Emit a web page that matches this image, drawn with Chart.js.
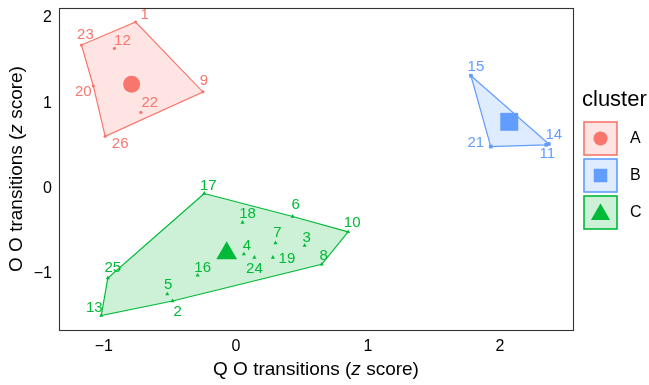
<!DOCTYPE html>
<html>
<head>
<meta charset="utf-8">
<script src="https://cdn.jsdelivr.net/npm/chart.js@4/dist/chart.umd.min.js"></script>
<style>
  html, body { margin: 0; padding: 0; background: #ffffff; }
  #wrap { width: 649px; height: 385px; position: relative; }
</style>
</head>
<body>
<div id="wrap"><canvas id="c" width="649" height="385"></canvas></div>
<script>
// ---- cluster A ----
const idsA = ['1', '23', '12', '20', '9', '22', '26'];
const xA = [-0.76, -1.17, -0.92, -1.08, -0.25, -0.72, -0.99];
const yA = [1.93, 1.66, 1.62, 1.18, 1.11, 0.87, 0.59];
const centerA = [-0.79, 1.20];
const hullA = ['23', '1', '9', '26', '20'];

// ---- cluster B ----
const idsB = ['15', '21', '14', '11'];
const xB = [1.78, 1.93, 2.37, 2.35];
const yB = [1.30, 0.47, 0.50, 0.49];
const centerB = [2.07, 0.76];
const hullB = ['15', '14', '11', '21'];

// ---- cluster C ----
const idsC = ['17', '6', '10', '18', '7', '3', '4', '24', '19', '8', '16', '25', '5', '2', '13'];
const xC = [-0.24, 0.43, 0.85, 0.05, 0.30, 0.52, 0.06, 0.14, 0.28, 0.65, -0.29, -0.97, -0.52, -0.48, -1.02];
const yC = [-0.08, -0.35, -0.53, -0.42, -0.66, -0.69, -0.79, -0.83, -0.83, -0.91, -1.04, -1.07, -1.26, -1.34, -1.51];
const centerC = [-0.07, -0.78];
const hullC = ['17', '6', '10', '8', '2', '13', '25'];

// tick values
const xTicks = [-1, 0, 1, 2];
const yTicks = [-1, 0, 1, 2];

// label placement (pixel nudges from each point, same order as the ids)
const nudgeA = [[9, -7], [4, -10], [8, -8], [-10, 6], [1, -11], [9, -10], [15, 8]];
const nudgeB = [[5, -9], [-15, -4], [5, -9], [1, 9]];
const nudgeC = [[4, -8], [3, -12], [4, -9], [5, -9], [2, -10], [2, -8], [3, -8], [0, 11],
                [14, 1], [2, -8], [5, -8], [5, -10], [1, -9], [5, 11], [-7, -8]];

const FONT = '"Liberation Sans", Arial, Helvetica, sans-serif';

const clusters = [
  { name: 'A', ids: idsA, xs: xA, ys: yA, center: centerA, hull: hullA, nudge: nudgeA,
    color: '#F8766D', fill: 'rgba(248,118,109,0.2)', shape: 'circle', small: 1.6, big: 8.5, key: 7 },
  { name: 'B', ids: idsB, xs: xB, ys: yB, center: centerB, hull: hullB, nudge: nudgeB,
    color: '#619CFF', fill: 'rgba(97,156,255,0.2)', shape: 'rect', small: 2.6, big: 12.7, key: 9.5 },
  { name: 'C', ids: idsC, xs: xC, ys: yC, center: centerC, hull: hullC, nudge: nudgeC,
    color: '#00BA38', fill: 'rgba(0,186,56,0.2)', shape: 'triangle', small: 2.4, big: 12, key: 11 }
];

function pointsOf(c) {
  return c.ids.map((id, i) => ({ x: c.xs[i], y: c.ys[i] }));
}
function hullOf(c) {
  const pts = c.hull.map(id => {
    const i = c.ids.indexOf(id);
    return { x: c.xs[i], y: c.ys[i] };
  });
  pts.push(pts[0]);
  return pts;
}

const datasets = [];
// member markers (drawn on top)
clusters.forEach(c => datasets.push({
  label: c.name, data: pointsOf(c), pointStyle: c.shape, pointRadius: c.small,
  backgroundColor: c.color, borderColor: c.color, borderWidth: 0, showLine: false
}));
// centroid markers
clusters.forEach(c => datasets.push({
  label: c.name + ' centre', data: [{ x: c.center[0], y: c.center[1] }], pointStyle: c.shape,
  pointRadius: c.big, backgroundColor: c.color, borderColor: c.color, borderWidth: 0, showLine: false
}));
// convex hulls (drawn underneath)
clusters.forEach(c => datasets.push({
  label: c.name + ' hull', data: hullOf(c), showLine: true, fill: 'shape', tension: 0,
  pointRadius: 0, borderColor: c.color, borderWidth: 1.2, backgroundColor: c.fill
}));

const minus = v => (v < 0 ? '\u2212' + Math.abs(v) : String(v));

// axes keep no extra room for overhanging tick labels
const noPadding = s => {
  s.paddingLeft = 0; s.paddingRight = 0; s.paddingTop = 0; s.paddingBottom = 0;
};

function drawParts(ctx, parts, size) {
  let total = 0;
  const widths = parts.map(([t, it]) => {
    ctx.font = (it ? 'italic ' : '') + size + 'px ' + FONT;
    const w = ctx.measureText(t).width;
    total += w;
    return w;
  });
  let x = -total / 2;
  ctx.textAlign = 'left';
  ctx.textBaseline = 'middle';
  parts.forEach(([t, it], i) => {
    ctx.font = (it ? 'italic ' : '') + size + 'px ' + FONT;
    ctx.fillText(t, x, 0);
    x += widths[i];
  });
}

const decorations = {
  id: 'decorations',
  afterDatasetsDraw(chart) {
    const { ctx, chartArea: a, scales } = chart;
    ctx.save();
    // point labels
    ctx.font = '15px ' + FONT;
    ctx.textAlign = 'center';
    ctx.textBaseline = 'middle';
    clusters.forEach(c => {
      ctx.fillStyle = c.color;
      c.ids.forEach((id, i) => {
        const px = scales.x.getPixelForValue(c.xs[i]);
        const py = scales.y.getPixelForValue(c.ys[i]);
        ctx.fillText(id, px + c.nudge[i][0], py + c.nudge[i][1]);
      });
    });
    // panel border
    ctx.strokeStyle = '#333333';
    ctx.lineWidth = 1.1;
    ctx.strokeRect(Math.round(a.left) + 0.5, Math.round(a.top) + 0.5,
                   Math.round(a.right - a.left), Math.round(a.bottom - a.top));
    ctx.restore();
  },
  afterDraw(chart) {
    const { ctx, chartArea: a } = chart;
    ctx.save();
    ctx.fillStyle = '#000000';
    // axis titles
    ctx.save();
    ctx.translate((a.left + a.right) / 2, 370);
    drawParts(ctx, [['Q O transitions (', false], ['z', true], [' score)', false]], 19);
    ctx.restore();
    ctx.save();
    ctx.translate(17, (a.top + a.bottom) / 2);
    ctx.rotate(-Math.PI / 2);
    drawParts(ctx, [['O O transitions (', false], ['z', true], [' score)', false]], 19);
    ctx.restore();

    // legend
    ctx.font = '22px ' + FONT;
    ctx.textAlign = 'left';
    ctx.textBaseline = 'middle';
    ctx.fillText('cluster', 582, 100);
    const left = 584, w = 33, h = 33;
    clusters.forEach((c, i) => {
      const top = 122 + i * 37;
      ctx.fillStyle = c.fill;
      ctx.fillRect(left, top, w, h);
      ctx.strokeStyle = c.color;
      ctx.lineWidth = 1.6;
      ctx.strokeRect(left, top, w, h);
      Chart.helpers.drawPoint(ctx, {
        pointStyle: c.shape, radius: c.key, rotation: 0, borderWidth: 0
      }, left + w / 2, top + h / 2 + (c.shape === 'triangle' ? 2 : 0));
      ctx.fillStyle = c.color;
      ctx.fill();
      ctx.fillStyle = '#000000';
      ctx.font = '16px ' + FONT;
      ctx.fillText(c.name, 630, top + h / 2);
    });
    ctx.restore();
  }
};

new Chart(document.getElementById('c'), {
  type: 'scatter',
  data: { datasets },
  options: {
    responsive: false,
    animation: false,
    devicePixelRatio: 1,
    layout: { autoPadding: false, padding: { top: 8, right: 76, left: 0, bottom: 0 } },
    plugins: { legend: { display: false }, tooltip: { enabled: false } },
    scales: {
      x: {
        type: 'linear', min: -1.34, max: 2.553,
        grid: { display: false, drawTicks: false }, border: { display: false },
        ticks: { font: { family: FONT, size: 16 }, color: '#000000', padding: 7, callback: v => minus(v) },
        afterBuildTicks: s => { s.ticks = xTicks.map(v => ({ value: v })); },
        afterFit: s => { s.height = 55; noPadding(s); }
      },
      y: {
        type: 'linear', min: -1.68, max: 2.094,
        grid: { display: false, drawTicks: false }, border: { display: false },
        ticks: { font: { family: FONT, size: 16 }, color: '#000000', padding: 7, labelOffset: 2, callback: v => minus(v) },
        afterBuildTicks: s => { s.ticks = yTicks.map(v => ({ value: v })); },
        afterFit: s => { s.width = 59; noPadding(s); }
      }
    }
  },
  plugins: [decorations]
});
</script>
</body>
</html>
